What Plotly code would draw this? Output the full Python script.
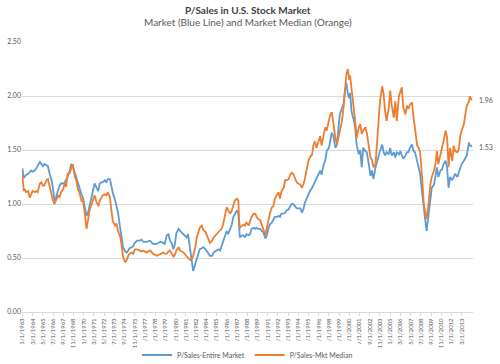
import plotly.graph_objects as go

dates = ["1963-01","1963-03","1963-04","1963-06","1963-09","1963-11","1964-01","1964-03","1964-06","1964-08","1964-10",
"1965-01","1965-03","1965-05","1965-07","1965-10","1965-12","1966-02","1966-05","1966-07","1966-09","1966-11",
"1967-02","1967-04","1967-06","1967-09","1967-11","1968-01","1968-03","1968-06","1968-08","1968-10",
"1969-01","1969-03","1969-05","1969-07","1969-10","1969-12","1970-02","1970-05","1970-07","1970-09","1970-11",
"1971-02","1971-04","1971-06","1971-09","1971-11","1972-01","1972-03","1972-06","1972-08","1972-10",
"1973-01","1973-03","1973-05","1973-08","1973-10","1973-12","1974-03","1974-05","1974-07","1974-10","1974-12",
"1975-02","1975-04","1975-07","1975-09","1975-11","1976-02","1976-06","1976-08","1976-11","1977-03","1977-08","1977-12",
"1978-05","1978-10","1979-02","1979-04","1979-07","1979-09","1979-11","1980-02","1980-04","1980-06","1980-08","1980-11",
"1981-01","1981-06","1981-10","1981-12","1982-03","1982-05","1982-07","1982-10","1982-12",
"1983-02","1983-04","1983-07","1983-09","1983-12","1984-02","1984-04","1984-06","1984-09","1984-11",
"1985-03","1985-06","1985-08","1985-10","1985-12","1986-03","1986-05","1986-07","1986-10","1986-12",
"1987-02","1987-04","1987-07","1987-09","1987-10","1987-11","1988-02","1988-04","1988-06","1988-08","1988-11",
"1989-01","1989-03","1989-06","1989-08","1989-10","1989-12","1990-03","1990-05","1990-07","1990-10","1990-12",
"1991-02","1991-04","1991-07","1991-09","1991-11","1992-02","1992-04","1992-06","1992-08","1992-11",
"1993-01","1993-03","1993-06","1993-08","1993-10","1993-12","1994-03","1994-05","1994-07","1994-10","1994-12",
"1995-02","1995-04","1995-07","1995-09","1995-11","1996-02","1996-04","1996-06","1996-08","1996-11",
"1997-01","1997-03","1997-06","1997-08","1997-10","1998-01","1998-03","1998-05","1998-07","1998-10","1998-12",
"1999-02","1999-04","1999-07","1999-09","1999-11","2000-01","2000-03","2000-05","2000-06","2000-08","2000-10","2000-11",
"2001-01","2001-03","2001-06","2001-08","2001-10","2001-12","2002-03","2002-05","2002-07","2002-10","2002-12",
"2003-02","2003-05","2003-07","2003-09","2003-11","2004-02","2004-04","2004-06","2004-08","2004-11",
"2005-01","2005-03","2005-06","2005-08","2005-10","2006-01","2006-03","2006-05","2006-07","2006-10","2006-12",
"2007-02","2007-04","2007-07","2007-09","2007-11","2008-02","2008-04","2008-06","2008-09","2008-11",
"2009-01","2009-03","2009-06","2009-08","2009-10","2010-01","2010-03","2010-05","2010-07","2010-10","2010-12",
"2011-02","2011-05","2011-07","2011-09","2011-11","2012-02","2012-04","2012-06","2012-09","2012-11",
"2013-01","2013-03","2013-06","2013-08","2013-10","2014-01","2014-02","2014-04","2014-05"]

entire_market = [1.33,1.24,1.25,1.27,1.28,1.30,1.31,1.30,1.31,1.33,1.35,
1.39,1.37,1.35,1.37,1.36,1.35,1.29,1.22,1.14,1.03,1.06,
1.13,1.17,1.19,1.19,1.20,1.22,1.25,1.31,1.37,1.35,
1.28,1.23,1.19,1.14,1.09,1.06,1.00,0.89,0.92,0.98,1.06,
1.12,1.19,1.16,1.12,1.19,1.20,1.20,1.22,1.20,1.23,
1.23,1.16,1.10,1.04,0.98,0.92,0.78,0.69,0.60,0.56,0.55,
0.57,0.59,0.60,0.61,0.64,0.66,0.66,0.67,0.65,0.65,0.66,0.63,
0.63,0.65,0.64,0.63,0.71,0.72,0.67,0.63,0.58,0.63,0.73,0.77,
0.75,0.72,0.69,0.72,0.60,0.48,0.38,0.45,0.51,
0.55,0.58,0.59,0.60,0.58,0.56,0.54,0.52,0.52,0.55,
0.57,0.58,0.57,0.61,0.65,0.72,0.75,0.72,0.77,0.81,
0.88,0.91,0.94,0.91,0.74,0.69,0.71,0.71,0.69,0.72,0.71,
0.72,0.77,0.78,0.77,0.78,0.77,0.77,0.75,0.74,0.68,0.71,
0.77,0.81,0.83,0.85,0.88,0.88,0.89,0.88,0.91,0.91,
0.92,0.94,0.95,0.98,1.00,1.00,0.98,0.96,0.96,0.96,0.92,
0.95,1.01,1.06,1.09,1.12,1.15,1.18,1.20,1.24,1.27,
1.31,1.27,1.37,1.40,1.49,1.52,1.60,1.66,1.63,1.52,1.55,
1.71,1.83,1.89,1.92,2.05,2.12,2.02,1.98,2.03,1.86,1.80,1.78,
1.71,1.55,1.46,1.50,1.34,1.52,1.49,1.48,1.40,1.26,1.31,
1.23,1.34,1.40,1.43,1.49,1.55,1.48,1.45,1.48,1.46,
1.52,1.45,1.48,1.43,1.48,1.46,1.49,1.45,1.42,1.45,1.48,
1.48,1.52,1.55,1.49,1.48,1.40,1.32,1.28,1.09,0.94,
0.85,0.75,0.91,1.06,1.15,1.18,1.28,1.34,1.25,1.31,1.32,
1.37,1.40,1.34,1.15,1.25,1.22,1.26,1.28,1.25,1.29,
1.34,1.37,1.40,1.43,1.45,1.57,1.54,1.54,1.53]

mkt_median = [1.27,1.12,1.14,1.11,1.12,1.06,1.09,1.12,1.11,1.12,1.11,
1.19,1.20,1.17,1.17,1.22,1.23,1.17,1.09,1.03,1.00,1.03,
1.08,1.06,1.11,1.14,1.19,1.16,1.28,1.29,1.34,1.37,
1.25,1.22,1.14,1.11,1.03,1.03,0.94,0.77,0.85,0.94,0.98,
1.05,1.08,1.03,0.98,1.03,1.06,1.08,1.09,1.08,1.11,
1.06,0.94,0.84,0.80,0.82,0.75,0.70,0.62,0.51,0.46,0.48,
0.52,0.54,0.55,0.54,0.58,0.58,0.57,0.56,0.57,0.55,0.57,0.54,
0.52,0.54,0.55,0.54,0.54,0.56,0.57,0.54,0.51,0.53,0.57,0.60,
0.57,0.55,0.51,0.50,0.48,0.49,0.52,0.60,0.69,
0.75,0.78,0.80,0.76,0.74,0.71,0.68,0.64,0.66,0.69,
0.72,0.74,0.75,0.77,0.81,0.91,0.97,0.94,0.91,0.94,
1.00,1.03,1.05,1.03,0.85,0.78,0.80,0.81,0.80,0.83,0.80,
0.85,0.88,0.91,0.91,0.88,0.86,0.85,0.81,0.77,0.71,0.78,
0.85,0.91,0.97,0.98,1.05,1.09,1.11,1.05,1.12,1.15,
1.22,1.22,1.23,1.27,1.29,1.28,1.22,1.20,1.19,1.18,1.15,
1.18,1.23,1.34,1.40,1.43,1.46,1.55,1.58,1.52,1.60,
1.63,1.54,1.63,1.71,1.68,1.78,1.83,1.85,1.74,1.61,1.55,
1.61,1.66,1.77,1.89,2.09,2.20,2.25,2.15,2.19,2.08,1.98,1.89,
1.77,1.61,1.71,1.74,1.65,1.68,1.71,1.66,1.58,1.43,1.41,
1.34,1.37,1.55,1.77,1.95,2.09,2.02,1.86,1.77,1.89,
2.05,1.92,1.80,1.95,1.77,2.00,2.05,2.08,1.89,1.83,1.91,
1.88,1.92,1.94,1.80,1.68,1.54,1.52,1.48,1.22,1.00,
0.92,0.86,1.03,1.18,1.25,1.31,1.37,1.49,1.37,1.46,1.49,
1.58,1.68,1.62,1.34,1.52,1.40,1.54,1.49,1.48,1.51,
1.63,1.68,1.74,1.83,1.91,1.95,2.00,1.97,1.96]

tick_dates = ["1963-01","1964-03","1965-05","1966-07","1967-09","1968-11","1970-01","1971-03","1972-05","1973-07",
"1974-09","1975-11","1977-01","1978-03","1979-05","1980-07","1981-09","1982-11","1984-01","1985-03","1986-05",
"1987-07","1988-09","1989-11","1991-01","1992-03","1993-05","1994-07","1995-09","1996-11","1998-01","1999-03",
"2000-05","2001-07","2002-09","2003-11","2005-01","2006-03","2007-05","2008-07","2009-09","2010-11","2012-01","2013-03"]
tick_labels = ["1/1/1963","3/1/1964","5/1/1965","7/1/1966","9/1/1967","11/1/1968","1/1/1970","3/1/1971","5/1/1972","7/1/1973",
"9/1/1974","11/1/1975","1/1/1977","3/1/1978","5/1/1979","7/1/1980","9/1/1981","11/1/1982","1/1/1984","3/1/1985","5/1/1986",
"7/1/1987","9/1/1988","11/1/1989","1/1/1991","3/1/1992","5/1/1993","7/1/1994","9/1/1995","11/1/1996","1/1/1998","3/1/1999",
"5/1/2000","7/1/2001","9/1/2002","11/1/2003","1/1/2005","3/1/2006","5/1/2007","7/1/2008","9/1/2009","11/1/2010","1/1/2012","3/1/2013"]

BLUE = "#5B9BD5"
ORANGE = "#ED7D31"
FONT = "Lato"
GREY = "#595959"

plot_top, plot_bottom = 42, 312
plot_left, plot_right = 22, 473
ph = plot_bottom - plot_top

fig = go.Figure()
fig.add_trace(go.Scatter(x=dates, y=entire_market, mode="lines", name="P/Sales-Entire Market",
                         line=dict(color=BLUE, width=1.8)))
fig.add_trace(go.Scatter(x=dates, y=mkt_median, mode="lines", name="P/Sales-Mkt Median",
                         line=dict(color=ORANGE, width=1.8)))

for val in (mkt_median[-1], entire_market[-1]):
    fig.add_annotation(x=1, xref="paper", y=val, yref="y", text=f"{val:.2f}", showarrow=False,
                       xanchor="left", xshift=4, font=dict(size=7, color=GREY, family=FONT))

fig.add_annotation(x=0.5, y=(plot_bottom - 10) / ph, xref="paper", yref="paper",
                   text="<b>P/Sales in U.S. Stock Market</b>", showarrow=False,
                   font=dict(size=10, color="#404040", family=FONT), yanchor="middle")
fig.add_annotation(x=0.5, y=(plot_bottom - 22) / ph, xref="paper", yref="paper",
                   text="Market (Blue Line) and Market Median (Orange)", showarrow=False,
                   font=dict(size=10, color=GREY, family=FONT), yanchor="middle")

fig.update_layout(
    width=500, height=364,
    margin=dict(l=plot_left, r=500 - plot_right, t=plot_top, b=364 - plot_bottom, autoexpand=False),
    paper_bgcolor="white", plot_bgcolor="white",
    font=dict(family=FONT, size=7, color=GREY),
    showlegend=True,
    legend=dict(orientation="h", x=0.5, xanchor="center", y=(plot_bottom - 355) / ph, yanchor="middle",
                font=dict(size=7, color=GREY), itemwidth=30, tracegroupgap=0),
    xaxis=dict(type="date", range=["1962-12-16", "2014-06-16"], tickvals=tick_dates, ticktext=tick_labels,
               tickangle=-90, showgrid=False, showline=True, linecolor="#D9D9D9", linewidth=1,
               ticks="outside", ticklen=3, tickcolor="#D9D9D9", tickfont=dict(size=6, color=GREY)),
    yaxis=dict(range=[0, 2.5], tickvals=[0, 0.5, 1.0, 1.5, 2.0, 2.5],
               ticktext=["0.00", "0.50", "1.00", "1.50", "2.00", "2.50"],
               showgrid=True, gridcolor="#D9D9D9", gridwidth=1, zeroline=False, showline=False,
               tickfont=dict(size=7, color=GREY)),
)

fig.write_html("out.html", config={"displayModeBar": False},
               post_script="document.body.style.margin='0';document.body.style.padding='0';")
